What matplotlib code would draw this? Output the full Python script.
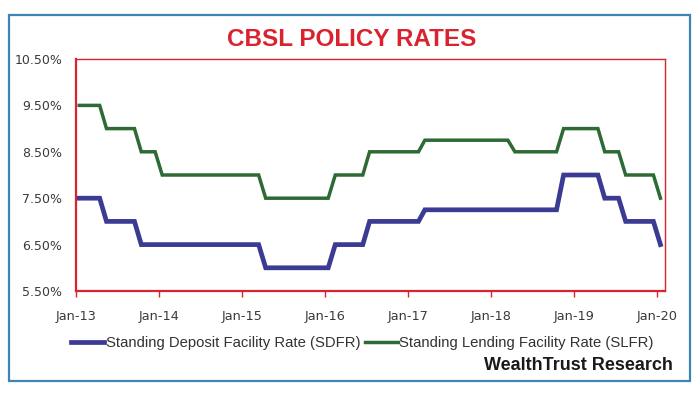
import matplotlib
matplotlib.use("Agg")
import matplotlib.pyplot as plt
import matplotlib.dates as mdates
from matplotlib.patches import Rectangle
from matplotlib.lines import Line2D
import pandas as pd

# monthly policy rates, Jan 2013 - Jan 2020 (one row per year)
sdfr = [7.5, 7.5, 7.5, 7.5, 7.0, 7.0, 7.0, 7.0, 7.0, 6.5, 6.5, 6.5,
        6.5, 6.5, 6.5, 6.5, 6.5, 6.5, 6.5, 6.5, 6.5, 6.5, 6.5, 6.5,
        6.5, 6.5, 6.5, 6.0, 6.0, 6.0, 6.0, 6.0, 6.0, 6.0, 6.0, 6.0,
        6.0, 6.5, 6.5, 6.5, 6.5, 6.5, 7.0, 7.0, 7.0, 7.0, 7.0, 7.0,
        7.0, 7.0, 7.25, 7.25, 7.25, 7.25, 7.25, 7.25, 7.25, 7.25, 7.25, 7.25,
        7.25, 7.25, 7.25, 7.25, 7.25, 7.25, 7.25, 7.25, 7.25, 7.25, 8.0, 8.0,
        8.0, 8.0, 8.0, 8.0, 7.5, 7.5, 7.5, 7.0, 7.0, 7.0, 7.0, 7.0,
        6.5]
slfr = [9.5, 9.5, 9.5, 9.5, 9.0, 9.0, 9.0, 9.0, 9.0, 8.5, 8.5, 8.5,
        8.0, 8.0, 8.0, 8.0, 8.0, 8.0, 8.0, 8.0, 8.0, 8.0, 8.0, 8.0,
        8.0, 8.0, 8.0, 7.5, 7.5, 7.5, 7.5, 7.5, 7.5, 7.5, 7.5, 7.5,
        7.5, 8.0, 8.0, 8.0, 8.0, 8.0, 8.5, 8.5, 8.5, 8.5, 8.5, 8.5,
        8.5, 8.5, 8.75, 8.75, 8.75, 8.75, 8.75, 8.75, 8.75, 8.75, 8.75, 8.75,
        8.75, 8.75, 8.75, 8.5, 8.5, 8.5, 8.5, 8.5, 8.5, 8.5, 9.0, 9.0,
        9.0, 9.0, 9.0, 9.0, 8.5, 8.5, 8.5, 8.0, 8.0, 8.0, 8.0, 8.0,
        7.5]
# points sit mid-month
months = pd.date_range("2013-01-01", periods=len(sdfr), freq="MS") + pd.Timedelta(days=14)
y_ticks = [5.5, 6.5, 7.5, 8.5, 9.5, 10.5]
x_ticks = pd.date_range("2013-01-01", "2020-01-01", freq="YS")

narrow = ["Liberation Sans", "DejaVu Sans"]
blue = "#3b3b94"
green = "#2d6a34"
red = "#d9232e"

fig = plt.figure(figsize=(7, 4), dpi=100)
fig.patches.append(Rectangle((9 / 700, 1 - 381 / 400), 681 / 700, 366 / 400,
                             transform=fig.transFigure, fill=False,
                             edgecolor="#3a87b5", linewidth=1.6))

ax = fig.add_axes([0.1086, 0.2725, 0.8414, 0.58])
ax.plot(months, sdfr, color=blue, linewidth=3.4, solid_joinstyle="miter")
ax.plot(months, slfr, color=green, linewidth=2.5, solid_joinstyle="miter")

ax.set_ylim(5.5, 10.5)
ax.set_xlim(pd.Timestamp("2013-01-01"), pd.Timestamp("2020-02-04"))
ax.set_yticks(y_ticks)
ax.set_yticklabels(["%.2f%%" % v for v in y_ticks])
ax.set_xticks(x_ticks)
ax.xaxis.set_major_formatter(mdates.DateFormatter("Jan-%y"))
ax.tick_params(axis="y", length=0, pad=10, labelsize=9, labelcolor="#3a3a3a")
ax.tick_params(axis="x", length=4, width=1, color=red, pad=10,
               labelsize=9.3, labelcolor="#3a3a3a")
for side in ["top", "right"]:
    ax.spines[side].set_color(red)
    ax.spines[side].set_linewidth(1.0)
for side in ["left", "bottom"]:
    ax.spines[side].set_color(red)
    ax.spines[side].set_linewidth(1.6)

fig.text(0.503, 1 - 40 / 400, "CBSL POLICY RATES", ha="center", va="center",
         color=red, fontsize=17.5, fontweight="bold", family=narrow)

handles = [Line2D([], [], color=blue, linewidth=3.4),
           Line2D([], [], color=green, linewidth=2.5)]
fig.legend(handles, ["Standing Deposit Facility Rate (SDFR)",
                     "Standing Lending Facility Rate (SLFR)"],
           loc="center", bbox_to_anchor=(0.518, 1 - 343 / 400), ncol=2,
           frameon=False, handlelength=2.2, handletextpad=0.12,
           columnspacing=0.3, prop={"family": narrow, "size": 10.7},
           labelcolor="#333333")

fig.text(673 / 700, 1 - 366 / 400, "WealthTrust Research", ha="right", va="center",
         color="#1a1a1a", fontsize=13, fontweight="bold", family=narrow)

fig.savefig("out.png", dpi=100)
